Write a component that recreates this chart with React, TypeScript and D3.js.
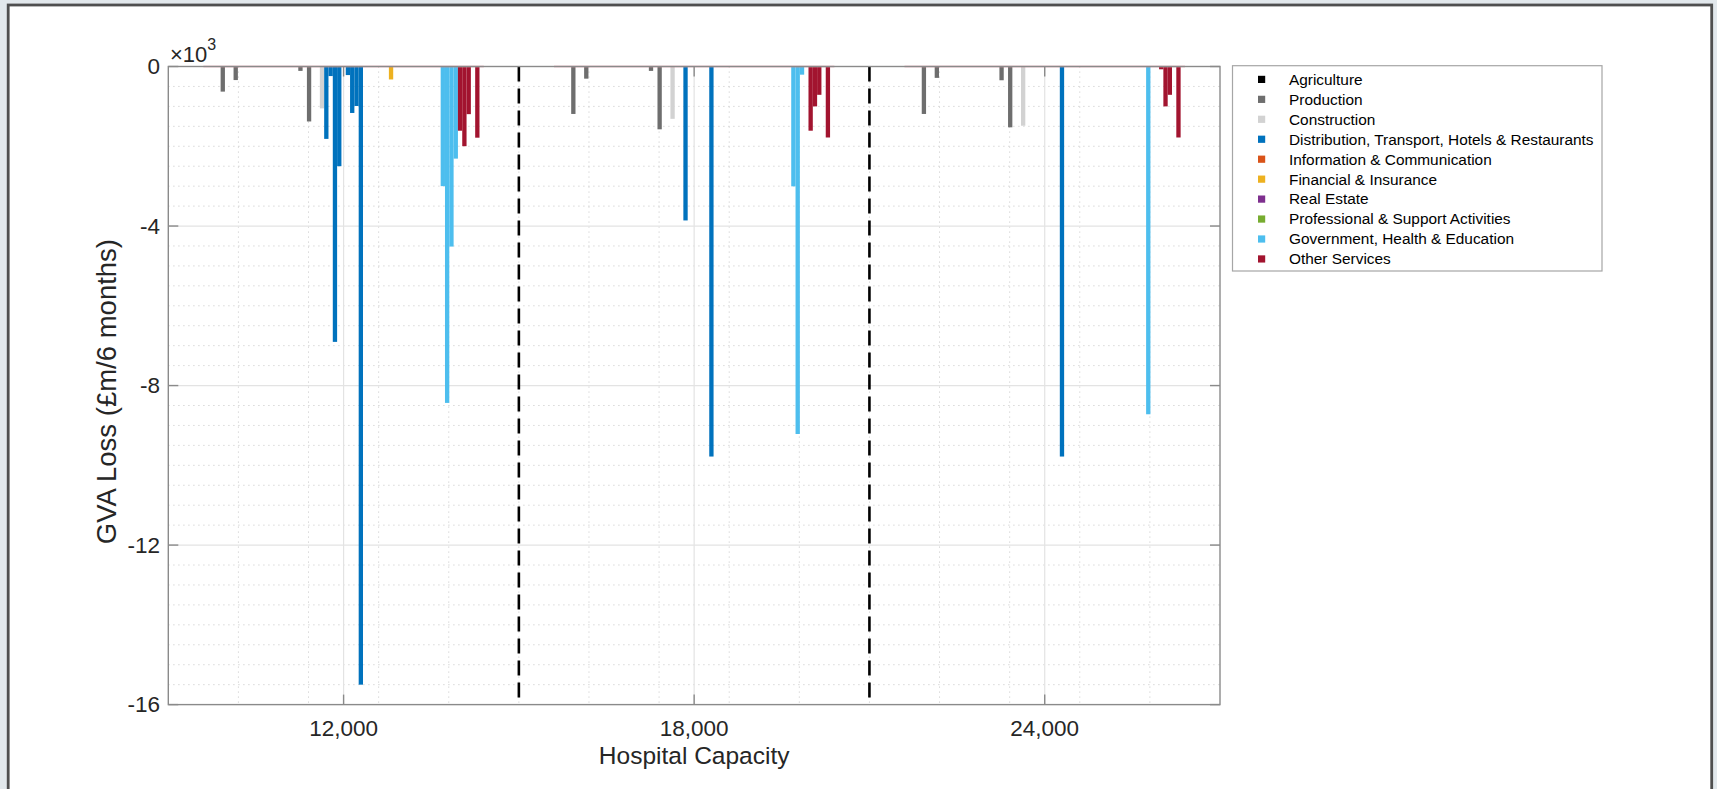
import React from "react";
import * as d3 from "d3";

// ---------- data ----------
const sectors = [
  "Agriculture",
  "Production",
  "Construction",
  "Distribution, Transport, Hotels & Restaurants",
  "Information & Communication",
  "Financial & Insurance",
  "Real Estate",
  "Professional & Support Activities",
  "Government, Health & Education",
  "Other Services",
];
const sectorColors = [
  "#000000",
  "#6e6e6e",
  "#d2d2d2",
  "#0072BD",
  "#D95319",
  "#EDB120",
  "#7E2F8E",
  "#77AC30",
  "#4DBEEE",
  "#A2142F",
];
const capacities = [12000, 18000, 24000];
const capacityLabels = ["12,000", "18,000", "24,000"];
const slotCount = 65; // sub-industry slots per capacity group
// non-zero bars: slot position within the group and sector index
const barSlots = [4, 7, 22, 24, 27, 28, 29, 30, 31, 33, 34, 35, 36, 43, 55, 56, 57, 58, 59, 60, 61, 63];
const barSectors = [1, 1, 1, 1, 2, 3, 3, 3, 3, 3, 3, 3, 3, 5, 8, 8, 8, 8, 9, 9, 9, 9];
// GVA loss (£m / 6 months)
const loss12000 = [-630, -340, -110, -1378, -1050, -1815, -240, -6905, -2500, -215, -1165, -990, -15500, -325, -3000, -8435, -4515, -2310, -1610, -1998, -1195, -1785];
const loss18000 = [-1190, -305, -110, -1575, -1312, 0, 0, -3860, 0, 0, 0, 0, -9780, 0, -3005, -9215, -205, 0, -1610, -1000, -710, -1780];
const loss24000 = [-1190, -285, -345, -1525, -1485, 0, 0, 0, 0, 0, 0, 0, -9780, 0, 0, -8720, 0, 0, -70, -1000, -710, -1780];
const lossByCapacity = [loss12000, loss18000, loss24000];
const yTicks = [0, -4000, -8000, -12000, -16000];
const yTickLabels = ["0", "-4", "-8", "-12", "-16"];
const dividers = [15000, 21000];

// ---------- layout ----------
const W = 1717;
const H = 789;
const L = 168.3;
const R = 1220;
const T = 66.5;
const B = 704.6;
const FONT = "'Liberation Sans', Arial, Helvetica, sans-serif";

export default function App() {
  const spacing = capacities[1] - capacities[0];
  const groupWidth = 0.8 * spacing;
  const slotW = groupWidth / slotCount;
  const x = d3
    .scaleLinear()
    .domain([capacities[0] - spacing / 2, capacities[capacities.length - 1] + spacing / 2])
    .range([L, R]);
  const y = d3.scaleLinear().domain([-16000, 0]).range([B, T]);

  const minorX = d3
    .range(capacities[0] - spacing / 2 + spacing / 5, capacities[capacities.length - 1] + spacing / 2, spacing / 5)
    .filter((v) => !capacities.some((c) => Math.abs(c - v) < 1));
  const minorY = d3.range(-15500, 0, 500).filter((v) => v % 4000 !== 0);

  const bars: { x0: number; x1: number; v: number; color: string; key: string }[] = [];
  capacities.forEach((cap, gi) => {
    const start = cap - groupWidth / 2;
    lossByCapacity[gi].forEach((v, k) => {
      if (v === 0) return;
      bars.push({
        x0: x(start + barSlots[k] * slotW),
        x1: x(start + (barSlots[k] + 1) * slotW),
        v,
        color: sectorColors[barSectors[k]],
        key: `${gi}-${k}`,
      });
    });
  });

  const legX = 1232.5;
  const legY = 65.7;
  const legW = 369.5;
  const legH = 205.3;
  const rowH = 19.95;

  return (
    <svg
      width={W}
      height={H}
      style={{ position: "fixed", left: 0, top: 0, display: "block" }}
      fontFamily={FONT}
    >
      <rect x={0} y={0} width={W} height={H} fill="#e2e8ec" />
      <rect x={8.2} y={5} width={1703.5} height={H + 10} fill="#ffffff" stroke="#4f4f4f" strokeWidth={2.8} />

      {/* minor grid */}
      {minorX.map((v) => (
        <line key={"mx" + v} x1={x(v)} x2={x(v)} y1={T} y2={B} stroke="#cfcfcf" strokeWidth={1} strokeDasharray="1.2 3.8" />
      ))}
      {minorY.map((v) => (
        <line key={"my" + v} x1={L} x2={R} y1={y(v)} y2={y(v)} stroke="#cfcfcf" strokeWidth={1} strokeDasharray="1.2 3.8" />
      ))}
      {/* major grid */}
      {capacities.map((c) => (
        <line key={"gx" + c} x1={x(c)} x2={x(c)} y1={T} y2={B} stroke="#e3e3e3" strokeWidth={1.2} />
      ))}
      {yTicks.slice(1, -1).map((v) => (
        <line key={"gy" + v} x1={L} x2={R} y1={y(v)} y2={y(v)} stroke="#e3e3e3" strokeWidth={1.2} />
      ))}

      {/* bars */}
      {bars.map((b) => (
        <rect key={b.key} x={b.x0} width={b.x1 - b.x0} y={y(0)} height={y(b.v) - y(0)} fill={b.color} />
      ))}
      {capacities.map((cap) => (
        <line
          key={"base" + cap}
          x1={x(cap - groupWidth / 2)}
          x2={x(cap + groupWidth / 2)}
          y1={y(0)}
          y2={y(0)}
          stroke="#e08a9a"
          strokeWidth={1.4}
        />
      ))}

      {/* dividers */}
      {dividers.map((d) => (
        <line key={"d" + d} x1={x(d)} x2={x(d)} y1={y(0)} y2={y(-16000)} stroke="#000" strokeWidth={2.6} strokeDasharray="15 7" />
      ))}

      {/* axes box */}
      <rect x={L} y={T} width={R - L} height={B - T} fill="none" stroke="#8a8a8a" strokeWidth={1.4} />
      {capacities.map((c) => (
        <g key={"tx" + c}>
          <line x1={x(c)} x2={x(c)} y1={B} y2={B - 10} stroke="#8a8a8a" strokeWidth={1.4} />
          <line x1={x(c)} x2={x(c)} y1={T} y2={T + 10} stroke="#8a8a8a" strokeWidth={1.4} />
        </g>
      ))}
      {yTicks.map((v) => (
        <g key={"ty" + v}>
          <line x1={L} x2={L + 10} y1={y(v)} y2={y(v)} stroke="#8a8a8a" strokeWidth={1.4} />
          <line x1={R} x2={R - 10} y1={y(v)} y2={y(v)} stroke="#8a8a8a" strokeWidth={1.4} />
        </g>
      ))}

      {/* tick labels */}
      {yTicks.map((v, i) => (
        <text key={"yl" + v} x={160} y={y(v)} dy="0.35em" textAnchor="end" fontSize={22.5} fill="#262626">
          {yTickLabels[i]}
        </text>
      ))}
      {capacities.map((c, i) => (
        <text key={"xl" + c} x={x(c)} y={735.5} textAnchor="middle" fontSize={22.5} fill="#262626">
          {capacityLabels[i]}
        </text>
      ))}
      <text x={170} y={61.7} fontSize={22} fill="#262626">
        ×10
        <tspan dy={-11.7} fontSize={16}>3</tspan>
      </text>

      {/* axis labels */}
      <text x={(L + R) / 2} y={763.5} textAnchor="middle" fontSize={24.5} fill="#262626">
        Hospital Capacity
      </text>
      <text
        transform={`translate(116,${(T + B) / 2 + 6}) rotate(-90)`}
        textAnchor="middle"
        fontSize={27.5}
        fill="#262626"
      >
        GVA Loss (£m/6 months)
      </text>

      {/* legend */}
      <rect x={legX} y={legY} width={legW} height={legH} fill="#fff" stroke="#a6a6a6" strokeWidth={1.2} />
      {sectors.map((s, i) => {
        const cy = 79.4 + i * rowH;
        return (
          <g key={s}>
            <rect x={1261.6 - 3.6} y={cy - 3.6} width={7.2} height={7.2} fill={sectorColors[i]} />
            <text x={1289} y={cy} dy="0.35em" fontSize={15.4} fill="#000">
              {s}
            </text>
          </g>
        );
      })}
    </svg>
  );
}
